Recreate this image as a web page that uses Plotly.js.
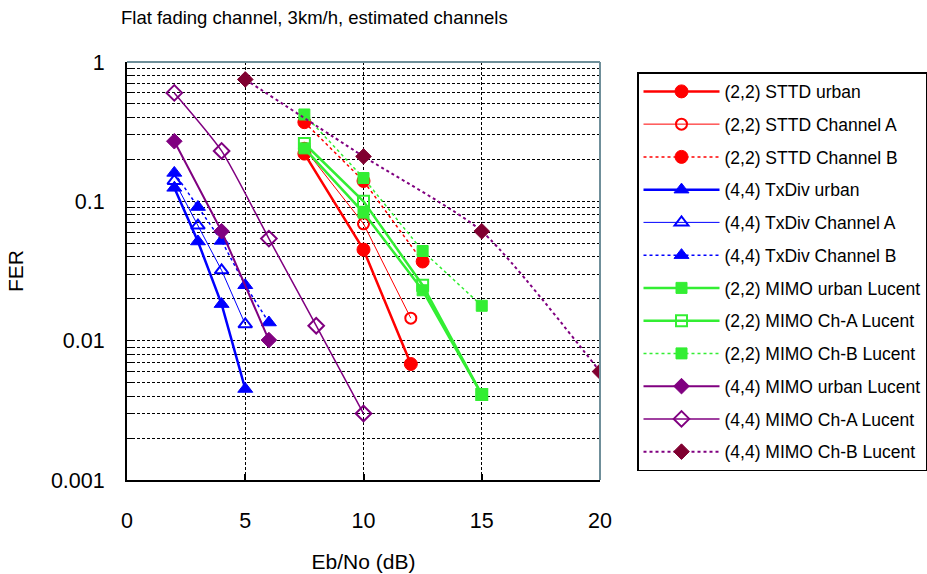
<!DOCTYPE html>
<html>
<head>
<meta charset="utf-8">
<script src="https://cdn.plot.ly/plotly-3.0.1.min.js"></script>
<style>html,body{margin:0;padding:0;background:#fff;}#chart{width:927px;height:574px;}</style>
</head>
<body>
<div id="chart"></div>
<script>
// ---- data (Eb/No in dB, FER) ----
const names = [
  "(2,2) STTD urban", "(2,2) STTD Channel A", "(2,2) STTD Channel B",
  "(4,4) TxDiv urban", "(4,4) TxDiv Channel A", "(4,4) TxDiv Channel B",
  "(2,2) MIMO urban Lucent", "(2,2) MIMO Ch-A Lucent", "(2,2) MIMO Ch-B Lucent",
  "(4,4) MIMO urban Lucent", "(4,4) MIMO Ch-A Lucent", "(4,4) MIMO Ch-B Lucent"
];
const sttdUrbanX = [7.5, 10, 12];
const sttdUrbanY = [0.22, 0.045, 0.0068];
const sttdAX = [7.5, 10, 12];
const sttdAY = [0.24, 0.069, 0.0145];
const sttdBX = [7.5, 10, 12.5];
const sttdBY = [0.37, 0.14, 0.037];

const txUrbanX = [2, 3, 4, 5];
const txUrbanY = [0.125, 0.0515, 0.0183, 0.0045];
const txAX = [2, 3, 4, 5];
const txAY = [0.14, 0.067, 0.032, 0.0131];
const txBX = [2, 3, 4, 5, 6];
const txBY = [0.16, 0.091, 0.052, 0.025, 0.0135];

const mimo22UrbanX = [7.5, 10, 12.5, 15];
const mimo22UrbanY = [0.24, 0.083, 0.023, 0.0041];
const mimo22AX = [7.5, 10, 12.5, 15];
const mimo22AY = [0.26, 0.10, 0.025, 0.0041];
const mimo22BX = [7.5, 10, 12.5, 15];
const mimo22BY = [0.42, 0.147, 0.044, 0.0178];

const mimo44UrbanX = [2, 4, 6];
const mimo44UrbanY = [0.27, 0.061, 0.0101];
const mimo44AX = [2, 4, 6, 8, 10];
const mimo44AY = [0.6, 0.23, 0.054, 0.0128, 0.003];
const mimo44BX = [5, 10, 15, 20];
const mimo44BY = [0.75, 0.21, 0.061, 0.006];

const xTicks = [0, 5, 10, 15, 20];
const yTicks = [1, 0.1, 0.01, 0.001];
const yTickText = ["1", "0.1", "0.01", "0.001"];

// ---- styling ----
const RED = "#ff0000", BLUE = "#0000ff", GREEN = "#33ee33", PURPLE = "#800080", MAROON = "#800030";
const DOT = "3px,3px";

function tr(i, x, y, color, lw, dash, symbol, msize, mcolor, shape) {
  return {
    x: x, y: y, name: names[i], type: "scatter", mode: "lines+markers",
    legendgroup: "g" + i,
    line: {color: color, width: lw, dash: dash, shape: shape || "linear", smoothing: 0.6},
    marker: {symbol: symbol, size: msize, color: mcolor || color,
             line: {color: mcolor || color, width: symbol.indexOf("open") >= 0 ? 2 : 1}}
  };
}

const data = [
  tr(0, sttdUrbanX, sttdUrbanY, RED, 2.5, "solid", "circle", 13),
  tr(1, sttdAX, sttdAY, RED, 1, "solid", "circle-open", 11),
  tr(2, sttdBX, sttdBY, RED, 1.5, DOT, "circle", 13),
  tr(3, txUrbanX, txUrbanY, BLUE, 2.5, "solid", "triangle-up", 13),
  tr(4, txAX, txAY, BLUE, 1, "solid", "triangle-up-open", 12),
  tr(5, txBX, txBY, BLUE, 1.5, DOT, "triangle-up", 13),
  tr(6, mimo22UrbanX, mimo22UrbanY, GREEN, 2.5, "solid", "square", 11),
  tr(7, mimo22AX, mimo22AY, GREEN, 2.5, "solid", "square-open", 11),
  tr(8, mimo22BX, mimo22BY, GREEN, 1.5, DOT, "square", 11),
  tr(9, mimo44UrbanX, mimo44UrbanY, PURPLE, 2, "solid", "diamond", 12),
  tr(10, mimo44AX, mimo44AY, PURPLE, 1.5, "solid", "diamond-open", 12, null, "spline"),
  tr(11, mimo44BX, mimo44BY, PURPLE, 2, DOT, "diamond", 12, MAROON, "spline")
];

const FONT = "Liberation Sans, Arial, sans-serif";

const layout = {
  width: 927, height: 574,
  margin: {l: 127, r: 327, t: 62, b: 94},
  paper_bgcolor: "#ffffff", plot_bgcolor: "#ffffff",
  font: {family: FONT, color: "#000", size: 18},
  title: {text: "Flat fading channel, 3km/h, estimated channels", font: {size: 18.5, family: FONT, color: "#000"},
          xref: "container", x: 121 / 927, xanchor: "left", yref: "container", y: 1 - 18 / 574, yanchor: "middle"},
  xaxis: {
    range: [0, 20], tickvals: xTicks, ticks: "inside", ticklen: 6, tickwidth: 2, tickcolor: "#000",
    showline: true, linecolor: "#000", linewidth: 2,
    showgrid: true, gridcolor: "#000", gridwidth: 1, griddash: "3px,2px",
    zeroline: false, ticklabelstandoff: 20,
    tickfont: {size: 21.5, family: FONT},
    title: {text: "Eb/No (dB)", font: {size: 21, family: FONT}, standoff: 23}
  },
  yaxis: {
    type: "log", range: [-3, 0], tickvals: yTicks, ticktext: yTickText,
    ticks: "inside", ticklen: 5, tickcolor: "#000",
    showline: true, linecolor: "#000", linewidth: 2,
    showgrid: true, gridcolor: "#000", gridwidth: 1, griddash: "3px,2px",
    minor: {dtick: "D1", showgrid: true, gridcolor: "#000", gridwidth: 1, griddash: "3px,2px", ticks: "inside", ticklen: 5, tickcolor: "#000"},
    zeroline: false, ticklabelstandoff: 16,
    tickfont: {size: 21.5, family: FONT},
    title: {text: "FER", font: {size: 21, family: FONT}, standoff: 22}
  },
  shapes: [
    {type: "line", xref: "paper", yref: "paper", x0: 0, x1: 1, y0: 1, y1: 1, line: {color: "#6f8f9a", width: 2}, layer: "above"},
    {type: "line", xref: "paper", yref: "paper", x0: 1, x1: 1, y0: 0, y1: 1, line: {color: "#6f8f9a", width: 2}, layer: "above"}
  ],
  legend: {
    xref: "container", yref: "container",
    x: 637 / 927, xanchor: "left", y: 1 - 72 / 574, yanchor: "top",
    bordercolor: "#000", borderwidth: 1.5, bgcolor: "#fff",
    font: {size: 17.5, family: FONT, color: "#000"},
    tracegroupgap: 7, itemwidth: 76, itemsizing: "trace",
    maxheight: 480
  },
  showlegend: true
};

Plotly.newPlot("chart", data, layout, {displayModeBar: false, staticPlot: true});
</script>
</body>
</html>
